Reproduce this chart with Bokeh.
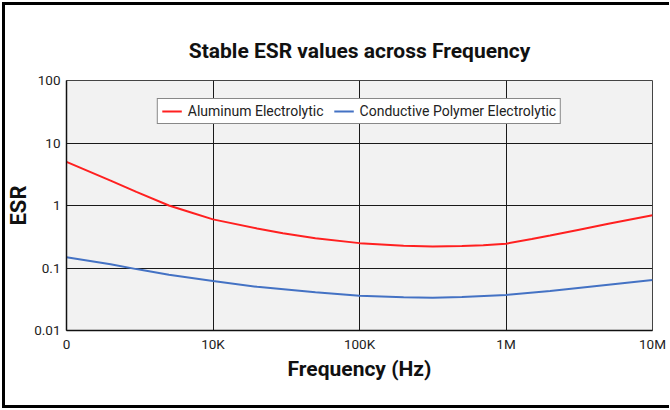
from bokeh.plotting import figure
from bokeh.models import FixedTicker, Legend, LegendItem, Range1d
from bokeh.embed import file_html
from bokeh.resources import INLINE

# ---- data ----
freq_al = [1e3, 2e3, 3e3, 5e3, 7e3, 1e4, 2e4, 3e4, 5e4, 1e5, 2e5, 3.16e5, 5e5, 7e5, 1e6, 1.5e6, 2e6, 3.16e6, 5e6, 1e7]
esr_al = [5.0, 2.5, 1.65, 1.0, 0.78, 0.6, 0.43, 0.36, 0.30, 0.25, 0.226, 0.22, 0.224, 0.232, 0.245, 0.29, 0.33, 0.41, 0.51, 0.70]

freq_cp = [1e3, 2e3, 3e3, 5e3, 1e4, 2e4, 5e4, 1e5, 2e5, 3.16e5, 5e5, 1e6, 2e6, 5e6, 1e7]
esr_cp = [0.148, 0.115, 0.096, 0.078, 0.062, 0.050, 0.041, 0.036, 0.034, 0.0335, 0.0345, 0.037, 0.043, 0.054, 0.064]

series_names = ["Aluminum Electrolytic", "Conductive Polymer Electrolytic"]

x_ticks = [1000, 10000, 100000, 1000000, 10000000]
x_labels = ["0", "10K", "100K", "1M", "10M"]
y_ticks = [0.01, 0.1, 1, 10, 100]
y_labels = ["0.01", "0.1", "1", "10", "100"]

FONT = "Roboto"

p = figure(
    width=667, height=406,
    x_axis_type="log", y_axis_type="log",
    x_range=Range1d(1e3, 1e7), y_range=Range1d(0.01, 100),
    output_backend="svg", toolbar_location=None,
    min_border_left=64, min_border_right=17, min_border_top=78, min_border_bottom=78,
    title="Stable ESR values across Frequency",
)
p.styles = {
    "margin-left": "2px",
    "margin-top": "2px",
    "box-shadow": "inset 3px 0 0 0 #000, inset 0 3px 0 0 #000, inset 0 -3px 0 0 #000",
}
p.border_fill_alpha = 0
p.background_fill_color = "#f2f2f2"
p.outline_line_color = "#444444"
p.outline_line_width = 1

p.title.text_font = FONT
p.title.text_font_size = "21px"
p.title.text_font_style = "bold"
p.title.align = "center"
p.title.text_color = "#111111"
p.title.standoff = 36

# axes
p.xaxis.ticker = FixedTicker(ticks=x_ticks)
p.xaxis.major_label_overrides = dict(zip(x_ticks, x_labels))
p.yaxis.ticker = FixedTicker(ticks=y_ticks)
p.yaxis.major_label_overrides = dict(zip(y_ticks, y_labels))
for ax in (p.xaxis, p.yaxis):
    ax.major_tick_out = 0
    ax.major_tick_in = 0
    ax.minor_tick_out = 0
    ax.minor_tick_in = 0
    ax.axis_line_color = "#111111"
    ax.axis_line_width = 1.5
    ax.major_label_text_font = FONT
    ax.major_label_text_font_size = "13.5px"
    ax.major_label_text_color = "#222222"
    ax.axis_label_text_font = FONT
    ax.axis_label_text_font_style = "bold"
    ax.axis_label_text_color = "#111111"
p.xaxis.axis_label = "Frequency (Hz)"
p.yaxis.axis_label = "ESR"
p.xaxis.axis_label_text_font_size = "21px"
p.yaxis.axis_label_text_font_size = "22px"
p.xaxis.major_label_standoff = 5
p.xaxis.axis_label_standoff = 2
p.yaxis.major_label_standoff = 6
p.yaxis.axis_label_standoff = 0

p.xgrid.ticker = FixedTicker(ticks=x_ticks)
p.ygrid.ticker = FixedTicker(ticks=y_ticks)
for g in (p.xgrid, p.ygrid):
    g.grid_line_color = "#1a1a1a"
    g.grid_line_width = 1
    g.minor_grid_line_color = None

r1 = p.line(freq_al, esr_al, line_color="#ff2020", line_width=2)
r2 = p.line(freq_cp, esr_cp, line_color="#4472c4", line_width=2)

legend = Legend(
    items=[LegendItem(label=series_names[0], renderers=[r1]),
           LegendItem(label=series_names[1], renderers=[r2])],
    location="top_center", orientation="horizontal",
    margin=18, padding=4, spacing=10, label_standoff=6,
    glyph_width=20, glyph_height=14,
    label_text_font=FONT, label_text_font_size="14px", label_text_color="#222222",
    label_height=14,
    border_line_color="#111111", border_line_width=1,
    background_fill_color="white", background_fill_alpha=1,
)
p.add_layout(legend)

open("out.html", "w").write(file_html(p, INLINE))
